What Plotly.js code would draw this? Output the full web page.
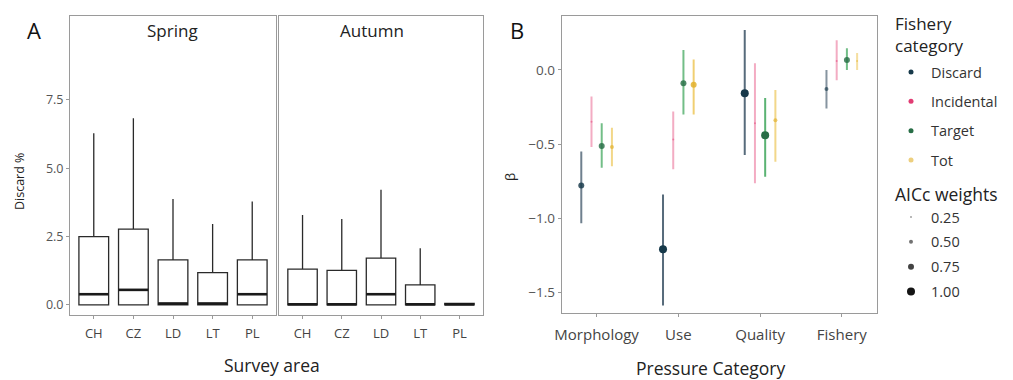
<!DOCTYPE html>
<html>
<head>
<meta charset="utf-8">
<script src="https://cdn.plot.ly/plotly-3.0.1.min.js"></script>
<style>html,body{margin:0;padding:0;background:#fff;}#chart{width:1013px;height:380px;}</style>
</head>
<body>
<div id="chart"></div>
<script>
// ---------- Panel A data (Discard %, box statistics) ----------
const areas = ['CH', 'CZ', 'LD', 'LT', 'PL'];
const springQ1 = [0, 0, 0, 0, 0];
const springMedian = [0.39, 0.55, 0.05, 0.05, 0.39];
const springQ3 = [2.5, 2.77, 1.65, 1.18, 1.65];
const springLower = [0, 0, 0, 0, 0];
const springUpper = [6.28, 6.83, 3.87, 2.96, 3.78];
const autumnQ1 = [0, 0, 0, 0, 0];
const autumnMedian = [0.02, 0.02, 0.39, 0.02, 0.02];
const autumnQ3 = [1.31, 1.26, 1.71, 0.73, 0.05];
const autumnLower = [0, 0, 0, 0, 0];
const autumnUpper = [3.29, 3.14, 4.21, 2.07, 0.05];

// ---------- Panel B data (beta estimates) ----------
const pressures = ['Morphology', 'Use', 'Quality', 'Fishery'];
const fisheryCats = ['Discard', 'Incidental', 'Target', 'Tot'];
const discardBeta = [-0.78, -1.21, -0.157, -0.128];
const discardLow = [-1.035, -1.59, -0.574, -0.26];
const discardHigh = [-0.55, -0.84, 0.27, 0.0];
const discardWeight = [0.75, 1.0, 1.0, 0.5];
const incidentalBeta = [-0.35, -0.47, -0.36, 0.06];
const incidentalLow = [-0.52, -0.67, -0.765, -0.07];
const incidentalHigh = [-0.18, -0.28, 0.045, 0.2];
const incidentalWeight = [0.25, 0.25, 0.25, 0.25];
const targetBeta = [-0.513, -0.09, -0.44, 0.067];
const targetLow = [-0.66, -0.3, -0.72, 0.0];
const targetHigh = [-0.36, 0.135, -0.19, 0.146];
const targetWeight = [0.75, 0.75, 1.0, 0.75];
const totBeta = [-0.52, -0.1, -0.34, 0.06];
const totLow = [-0.65, -0.3, -0.62, 0.0];
const totHigh = [-0.39, 0.07, -0.135, 0.115];
const totWeight = [0.5, 0.75, 0.5, 0.25];
const weightLevels = [0.25, 0.5, 0.75, 1.0];
const weightLabels = ['0.25', '0.50', '0.75', '1.00'];

// ---------- styling ----------
const FONT = 'Open Sans, sans-serif';
const AX = '#9a9a9a';
const BOXW = 0.75;
const idxA = areas.map((_, i) => i);
const idxB = pressures.map((_, i) => i);
const dodge = [-0.1875, -0.0625, 0.0625, 0.1875];
const lineRGB = ['45,70,90', '230,76,125', '50,160,80', '233,185,50'];
const pointRGB = ['23,57,74', '225,60,115', '40,110,70', '225,175,40'];
const sizeOf = w => 8 * w;

const traces = [];

function boxTrace(q1, med, q3, lo, hi, xa, ya) {
  return {
    type: 'box', x: idxA, q1: q1, median: med, q3: q3,
    lowerfence: lo, upperfence: hi, width: BOXW,
    xaxis: xa, yaxis: ya, boxpoints: false, whiskerwidth: 0,
    line: {color: '#2a2a2a', width: 1.3}, fillcolor: '#ffffff',
    showlegend: false, hoverinfo: 'skip'
  };
}
function medianTrace(med, xa, ya) {
  const x = [], y = [];
  idxA.forEach((i) => { x.push(i - BOXW / 2, i + BOXW / 2, null); y.push(med[i], med[i], null); });
  return {type: 'scatter', mode: 'lines', x: x, y: y, xaxis: xa, yaxis: ya,
    line: {color: '#1a1a1a', width: 2.6}, showlegend: false, hoverinfo: 'skip'};
}
traces.push(boxTrace(springQ1, springMedian, springQ3, springLower, springUpper, 'x', 'y'));
traces.push(medianTrace(springMedian, 'x', 'y'));
traces.push(boxTrace(autumnQ1, autumnMedian, autumnQ3, autumnLower, autumnUpper, 'x2', 'y2'));
traces.push(medianTrace(autumnMedian, 'x2', 'y2'));

const seriesB = [
  [discardBeta, discardLow, discardHigh, discardWeight],
  [incidentalBeta, incidentalLow, incidentalHigh, incidentalWeight],
  [targetBeta, targetLow, targetHigh, targetWeight],
  [totBeta, totLow, totHigh, totWeight]
];
seriesB.forEach((s, c) => {
  const [beta, lo, hi, w] = s;
  idxB.forEach((p) => {
    traces.push({
      type: 'scatter', mode: 'markers', x: [p + dodge[c]], y: [beta[p]],
      xaxis: 'x3', yaxis: 'y3', showlegend: false, hoverinfo: 'skip',
      error_y: {type: 'data', symmetric: false, array: [hi[p] - beta[p]], arrayminus: [beta[p] - lo[p]],
        width: 0, thickness: 2, color: 'rgba(' + lineRGB[c] + ',' + (0.35 + 0.45 * w[p]) + ')'},
      marker: {size: sizeOf(w[p]), color: 'rgba(' + pointRGB[c] + ',' + (0.3 + 0.7 * w[p]) + ')', line: {width: 0}}
    });
  });
});
// legend entries: fishery category
fisheryCats.forEach((name, c) => {
  traces.push({type: 'scatter', mode: 'markers', x: [null], y: [null], xaxis: 'x3', yaxis: 'y3',
    name: name, legend: 'legend', legendgroup: 'f' + c, showlegend: true,
    marker: {size: 5, color: 'rgba(' + pointRGB[c] + ',' + (c === 3 ? 0.6 : 1) + ')'}});
});
// legend entries: AICc weights
weightLevels.forEach((w, k) => {
  traces.push({type: 'scatter', mode: 'markers', x: [null], y: [null], xaxis: 'x3', yaxis: 'y3',
    name: weightLabels[k], legend: 'legend2', legendgroup: 'w' + k, showlegend: true,
    marker: {size: sizeOf(w), color: 'rgba(20,20,20,' + (0.2 + 0.8 * w) + ')'}});
});

const baseAxis = {
  showline: true, mirror: true, linecolor: AX, linewidth: 1, showgrid: false, zeroline: false,
  ticks: 'outside', ticklen: 3, tickcolor: AX, fixedrange: true
};
const W = 1013, H = 380;
const ann = (text, x, y, size, extra) => Object.assign({
  text: text, x: x / W, y: 1 - y / H, xref: 'paper', yref: 'paper', showarrow: false,
  xanchor: 'center', yanchor: 'middle', font: {family: FONT, size: size, color: '#222'}
}, extra || {});
const layout = {
  width: W, height: H, margin: {l: 0, r: 0, t: 0, b: 0},
  paper_bgcolor: '#fff', plot_bgcolor: '#fff', font: {family: FONT, color: '#222'},
  xaxis: Object.assign({}, baseAxis, {domain: [70 / W, 276 / W], range: [-0.6, 4.6], tickvals: idxA, ticktext: areas, anchor: 'y', ticklabelstandoff: 3, tickfont: {family: FONT, size: 13, color: '#444'}}),
  yaxis: Object.assign({}, baseAxis, {domain: [1 - 315 / H, 1 - 16 / H], range: [-0.37, 10.57], tickvals: [0, 2.5, 5, 7.5], ticktext: ['0.0', '2.5', '5.0', '7.5'], anchor: 'x', tickfont: {family: FONT, size: 12.5, color: '#555'}}),
  xaxis2: Object.assign({}, baseAxis, {domain: [279 / W, 483 / W], range: [-0.6, 4.6], tickvals: idxA, ticktext: areas, anchor: 'y2', ticklabelstandoff: 3, tickfont: {family: FONT, size: 13, color: '#444'}}),
  yaxis2: Object.assign({}, baseAxis, {domain: [1 - 315 / H, 1 - 16 / H], range: [-0.37, 10.57], showticklabels: false, ticks: '', anchor: 'x2'}),
  xaxis3: Object.assign({}, baseAxis, {domain: [561.7 / W, 876.7 / W], range: [-0.427, 3.427], tickvals: idxB, ticktext: pressures, anchor: 'y3', ticklabelstandoff: 5, tickfont: {family: FONT, size: 15, color: '#444'}}),
  yaxis3: Object.assign({}, baseAxis, {domain: [1 - 313.3 / H, 1 - 16 / H], range: [-1.642, 0.364], tickvals: [-1.5, -1, -0.5, 0], ticktext: ['\u22121.5', '\u22121.0', '\u22120.5', '0.0'], anchor: 'x3', tickfont: {family: FONT, size: 13.5, color: '#555'}}),
  legend: {x: 891 / W, xanchor: 'left', y: 1 - 56 / H, yanchor: 'top', bgcolor: 'rgba(0,0,0,0)',
    font: {family: FONT, size: 14.5, color: '#333'}, tracegroupgap: 7.5, itemclick: false, itemdoubleclick: false},
  legend2: {x: 891 / W, xanchor: 'left', y: 1 - 201 / H, yanchor: 'top', bgcolor: 'rgba(0,0,0,0)',
    font: {family: FONT, size: 14.5, color: '#333'}, tracegroupgap: 3, itemclick: false, itemdoubleclick: false},
  annotations: [
    ann('A', 34, 30, 22, {font: {family: FONT, size: 22, color: '#111'}}),
    ann('B', 517, 30, 22, {font: {family: FONT, size: 22, color: '#111'}}),
    ann('Spring', 172, 30, 17),
    ann('Autumn', 372, 30, 17),
    ann('Survey area', 272, 365, 17.5),
    ann('Pressure Category', 710, 368, 17.5),
    ann('Discard %', 20, 182, 12.5, {textangle: -90}),
    ann('\u03b2', 510, 177, 13, {textangle: -90}),
    ann('Fishery<br>category', 893, 10, 17, {xanchor: 'left', yanchor: 'top', align: 'left'}),
    ann('AICc weights', 893, 194, 17.5, {xanchor: 'left'})
  ]
};
Plotly.newPlot('chart', traces, layout, {staticPlot: true, displayModeBar: false});
</script>
</body>
</html>
